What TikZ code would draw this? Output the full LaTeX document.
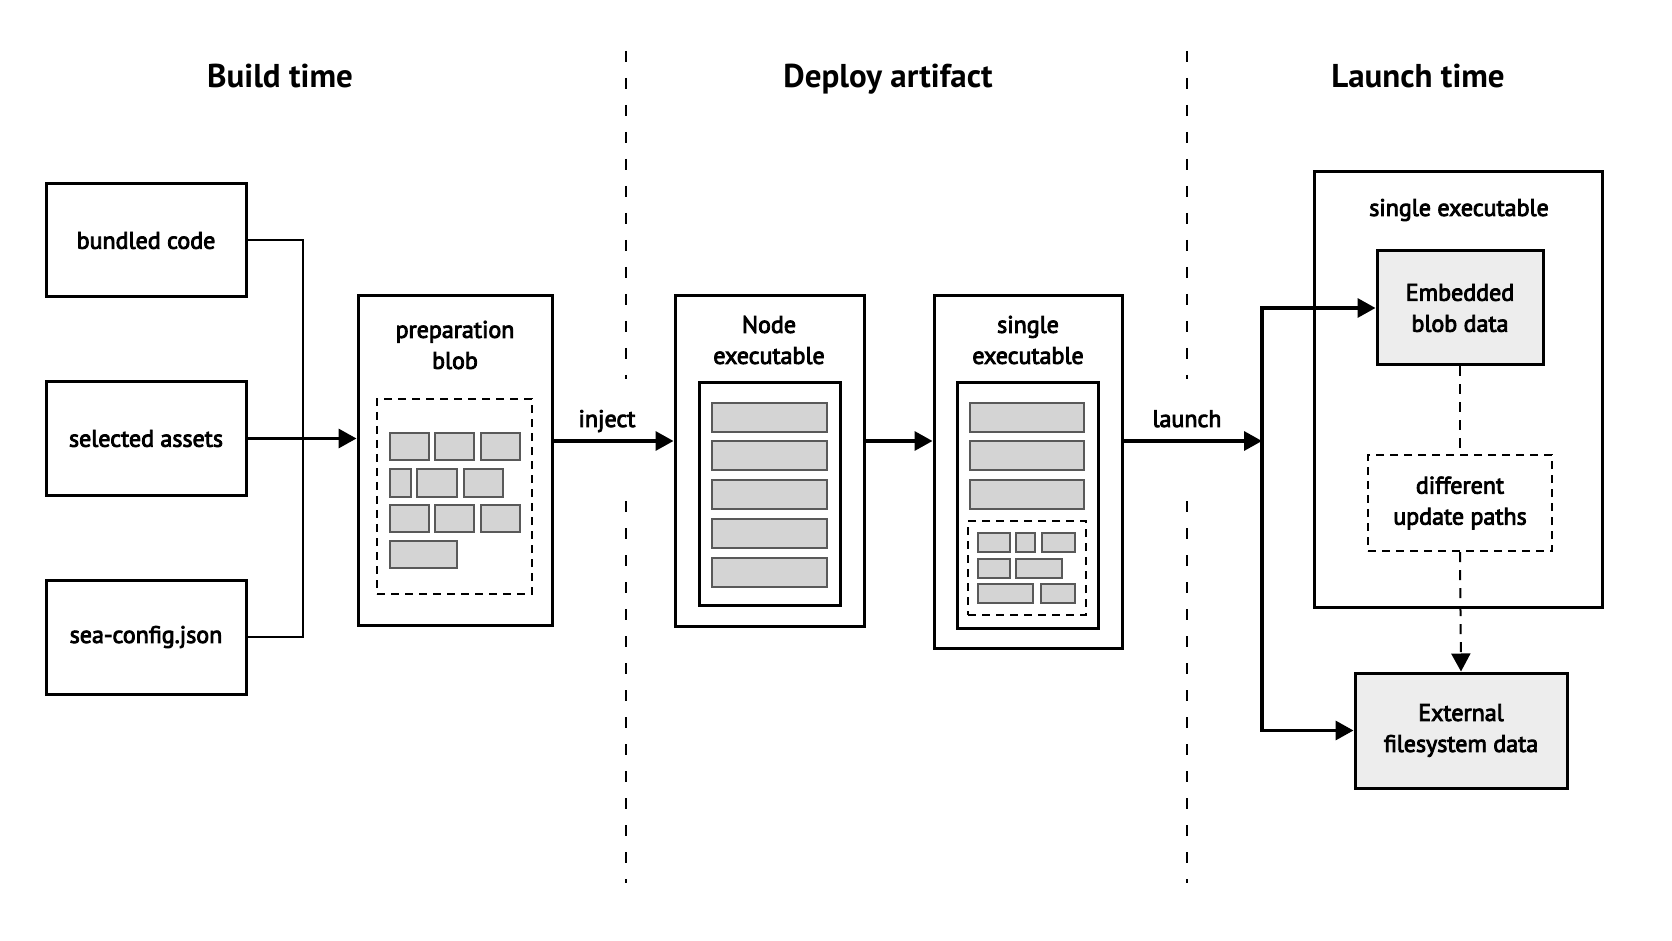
\documentclass[tikz,border=0pt]{standalone}
\usepackage{fontspec}
\setmainfont{PT Sans}
\newfontfamily\bodyfont{PT Sans}[FakeBold=3.5]
\usetikzlibrary{arrows.meta,fit}
\begin{document}
\begin{tikzpicture}[x=0.5pt,y=-0.5pt,
  box/.style={draw=black, line width=1.5pt, inner sep=0pt},
  softbox/.style={box, fill=black!7},
  txt/.style={font=\bodyfont\fontsize{12}{15.5}\selectfont, align=center, inner sep=0pt},
  head/.style={font=\bfseries\fontsize{16.5}{20}\selectfont, inner sep=0pt, anchor=base},
  cell/.style={draw=black!65, fill=black!17, line width=0.7pt},
  dbox/.style={draw=black, line width=1.2pt, dash pattern=on 4pt off 3pt},
  sepline/.style={line width=1.1pt, dash pattern=on 5.5pt off 8pt},
  tip/.style={-{Triangle[length=9pt,width=9.5pt]}},
  flow/.style={line width=1.7pt, tip},
  link/.style={line width=1pt},
  dlink/.style={line width=1pt, dash pattern=on 5pt off 4pt}
]
\useasboundingbox (0,0) rectangle (1672,941);
\fill[white] (0,0) rectangle (1672,941);

% headings
\node[head] (hbuild) at (280,88) {Build time};
\node[head] (hdeploy) at (888,88) {Deploy artifact};
\node[head] (hlaunch) at (1418,88) {Launch time};

% separators
\draw[sepline] (626,51) -- (626,379);
\draw[sepline] (626,501) -- (626,883);
\draw[sepline] (1187,51) -- (1187,379);
\draw[sepline] (1187,501) -- (1187,883);

% build-time inputs
\node[box, fit={(46,184) (246,297)}] (bundled) {};
\node[txt] (tbundled) at (bundled.center) {bundled code};
\node[box, fit={(46,382) (246,495)}] (selected) {};
\node[txt] (tselected) at (selected.center) {selected assets};
\node[box, fit={(46,580) (246,694)}] (sea) {};
\node[txt] (tsea) at (sea.center) {sea-config.json};

% preparation blob
\node[box, fit={(358,296) (552,625)}] (prep) {};
\node[txt] (tprep) at (455,345) {preparation\\blob};
\node[dbox, fit={(377,399) (532,594)}, inner sep=0pt] (prepin) {};
\draw[cell] (390,433) rectangle (429,460);
\draw[cell] (435,433) rectangle (474,460);
\draw[cell] (481,433) rectangle (520,460);
\draw[cell] (390,469) rectangle (411,497);
\draw[cell] (417,469) rectangle (457,497);
\draw[cell] (464,469) rectangle (503,497);
\draw[cell] (390,505) rectangle (429,532);
\draw[cell] (435,505) rectangle (474,532);
\draw[cell] (481,505) rectangle (520,532);
\draw[cell] (390,541) rectangle (457,568);

% Node executable
\node[box, fit={(675,296) (864,626)}] (nodeexe) {};
\node[txt] (tnodeexe) at (769,340) {Node\\executable};
\node[box, fit={(699,383) (840,605)}] (nodein) {};
\draw[cell] (712,403) rectangle (827,432);
\draw[cell] (712,441) rectangle (827,470);
\draw[cell] (712,480) rectangle (827,509);
\draw[cell] (712,519) rectangle (827,548);
\draw[cell] (712,558) rectangle (827,587);

% single executable (deploy)
\node[box, fit={(934,296) (1122,648)}] (single) {};
\node[txt] (tsingle) at (1028,340) {single\\executable};
\node[box, fit={(957,383) (1098,628)}] (singlein) {};
\draw[cell] (970,403) rectangle (1084,432);
\draw[cell] (970,441) rectangle (1084,470);
\draw[cell] (970,480) rectangle (1084,509);
\node[dbox, fit={(968,521) (1086,615)}, inner sep=0pt] (singleblob) {};
\draw[cell] (978,533) rectangle (1010,552);
\draw[cell] (1016,533) rectangle (1035,552);
\draw[cell] (1042,533) rectangle (1075,552);
\draw[cell] (978,559) rectangle (1010,578);
\draw[cell] (1016,559) rectangle (1062,578);
\draw[cell] (978,584) rectangle (1033,603);
\draw[cell] (1041,584) rectangle (1075,603);

% launch time
\node[box, fit={(1314,172) (1602,607)}] (outer) {};
\node[txt] (touter) at (1459,210) {single executable};
\node[softbox, fit={(1377,251) (1543,365)}] (embedded) {};
\node[txt] (tembedded) at (embedded.center) {Embedded\\blob data};
\node[dbox, fit={(1368,455) (1552,551)}, inner sep=0pt] (different) {};
\node[txt] (tdifferent) at (different.center) {different\\update paths};
\node[softbox, fit={(1355,673) (1567,788)}] (external) {};
\node[txt] (texternal) at (external.center) {External\\filesystem data};

% connectors
\coordinate (fy) at (0,441);
\coordinate (split) at (1262,441);
\draw[link] (bundled.east) -- ++(55,0) |- (sea.east);
\draw[flow] (selected.east) -- (selected.east -| prep.west);
\draw[flow] (prep.east |- fy) -- (nodeexe.west |- fy);
\node[txt, anchor=base] (linject) at (607,427) {inject};
\draw[flow] (nodeexe.east |- fy) -- (single.west |- fy);
\draw[flow] (single.east |- fy) -- (split);
\node[txt, anchor=base] (llaunch) at (1187,427) {launch};
\draw[flow] (split) |- (embedded.west);
\draw[flow] (split) |- (external.west);
\draw[dlink] (embedded.south) -- (different.north);
\draw[dlink, tip] (different.south) -- (external.north);
\end{tikzpicture}
\end{document}
